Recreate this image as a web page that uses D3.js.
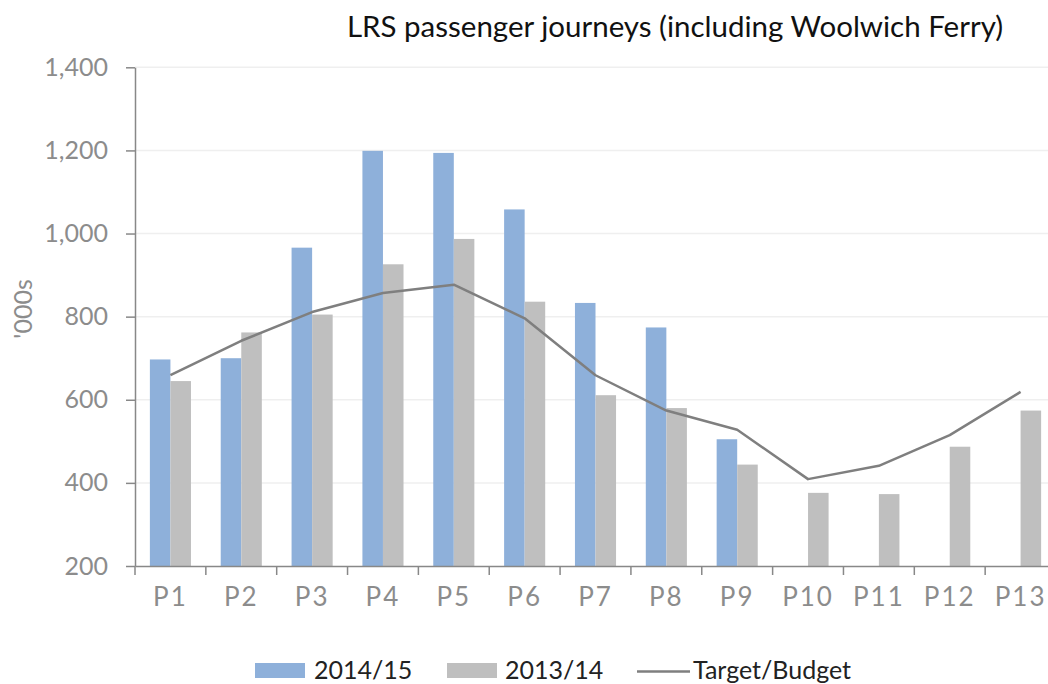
<!DOCTYPE html>
<html>
<head>
<meta charset="utf-8">
<script src="https://cdn.jsdelivr.net/npm/d3@7"></script>
<style>
  body { margin: 0; background: #fff; }
  svg { display: block; font-family: Lato, "Open Sans", sans-serif; }
  .tick-label { fill: #8c8c8c; }
</style>
</head>
<body>
<svg width="1048" height="684"></svg>
<script>
// data ('000s)
const periods = ["P1", "P2", "P3", "P4", "P5", "P6", "P7", "P8", "P9", "P10", "P11", "P12", "P13"];
const journeys1415 = [697, 700, 966, 1199, 1194, 1058, 833, 774, 505, null, null, null, null];
const journeys1314 = [645, 762, 805, 926, 987, 836, 611, 580, 444, 376, 373, 487, 574];
const targetBudget = [659, 742, 811, 857, 877, 796, 659, 574, 528, 409, 441, 515, 619];
const yTicks = [200, 400, 600, 800, 1000, 1200, 1400];

const BLUE = "#8eb0da";
const GREY = "#bfbfbf";
const LINE = "#7f7f7f";

const svg = d3.select("svg");

const x = d3.scaleBand().domain(periods).range([135, 1056]).padding(0);
const y = d3.scaleLinear().domain([200, 1400]).range([566, 67.3]);

const groupW = x.bandwidth() * 0.58;
const x1 = d3.scaleBand().domain(["a", "b"]).range([0, groupW]).padding(0);

// gridlines
svg.append("g")
  .selectAll("line")
  .data(yTicks.slice(1))
  .enter()
  .append("line")
  .attr("x1", x.range()[0])
  .attr("x2", x.range()[1])
  .attr("y1", (d) => y(d))
  .attr("y2", (d) => y(d))
  .attr("stroke", "#efefef")
  .attr("stroke-width", 1.5);

// bars
const rows = periods.map((p, i) => ({ p, a: journeys1415[i], b: journeys1314[i] }));
const groups = svg.append("g")
  .selectAll("g")
  .data(rows)
  .enter()
  .append("g")
  .attr("transform", (d) => `translate(${x(d.p) + (x.bandwidth() - groupW) / 2},0)`);

groups.filter((d) => d.a != null)
  .append("rect")
  .attr("x", x1("a"))
  .attr("width", x1.bandwidth())
  .attr("y", (d) => y(d.a))
  .attr("height", (d) => y(200) - y(d.a))
  .attr("fill", BLUE);

groups.append("rect")
  .attr("x", x1("b"))
  .attr("width", x1.bandwidth())
  .attr("y", (d) => y(d.b))
  .attr("height", (d) => y(200) - y(d.b))
  .attr("fill", GREY);

// target line
const line = d3.line()
  .x((d, i) => x(periods[i]) + x.bandwidth() / 2)
  .y((d) => y(d));

svg.append("path")
  .datum(targetBudget)
  .attr("d", line)
  .attr("fill", "none")
  .attr("stroke", LINE)
  .attr("stroke-width", 2.5)
  .attr("stroke-linejoin", "round");

// y axis
const yAxis = svg.append("g")
  .attr("transform", "translate(135,0)")
  .call(d3.axisLeft(y).tickValues(yTicks).tickSize(9).tickSizeOuter(0).tickPadding(18).tickFormat(d3.format(",")));
yAxis.select(".domain").attr("stroke", "#888").attr("stroke-width", 1.5);
yAxis.selectAll(".tick line").attr("stroke", "#888").attr("stroke-width", 1.5);
yAxis.selectAll(".tick text")
  .attr("class", "tick-label")
  .attr("font-size", 25)
  .attr("font-family", "Lato, sans-serif");

// x axis
const xAxis = svg.append("g")
  .attr("transform", "translate(0,566)")
  .call(d3.axisBottom(x).tickSize(0).tickPadding(22));
xAxis.select(".domain").attr("stroke", "#888").attr("stroke-width", 1.5);
xAxis.selectAll(".tick text")
  .attr("class", "tick-label")
  .attr("font-size", 26)
  .attr("letter-spacing", 2)
  .attr("font-family", "Lato, sans-serif");

svg.append("g")
  .selectAll("line")
  .data(periods.concat(["end"]))
  .enter()
  .append("line")
  .attr("x1", (d, i) => x.range()[0] + i * x.step())
  .attr("x2", (d, i) => x.range()[0] + i * x.step())
  .attr("y1", 566)
  .attr("y2", 575)
  .attr("stroke", "#888")
  .attr("stroke-width", 1.5);

// y axis title
svg.append("text")
  .attr("transform", "translate(32,309) rotate(-90)")
  .attr("text-anchor", "middle")
  .attr("font-size", 25)
  .attr("fill", "#8c8c8c")
  .text("'000s");

// chart title
svg.append("text")
  .attr("x", 675)
  .attr("y", 37)
  .attr("text-anchor", "middle")
  .attr("font-size", 29.5)
  .attr("fill", "#111")
  .text("LRS passenger journeys (including Woolwich Ferry)");

// legend
const legend = svg.append("g").attr("font-size", 25).attr("fill", "#222");

legend.append("rect").attr("x", 255).attr("y", 663).attr("width", 50).attr("height", 15).attr("fill", BLUE);
legend.append("text").attr("x", 314).attr("y", 679).text("2014/15");

legend.append("rect").attr("x", 447).attr("y", 663).attr("width", 50).attr("height", 15).attr("fill", GREY);
legend.append("text").attr("x", 505).attr("y", 679).text("2013/14");

legend.append("line")
  .attr("x1", 637).attr("x2", 690).attr("y1", 671.5).attr("y2", 671.5)
  .attr("stroke", LINE).attr("stroke-width", 2.5);
legend.append("text").attr("x", 693).attr("y", 679).text("Target/Budget");
</script>
</body>
</html>
